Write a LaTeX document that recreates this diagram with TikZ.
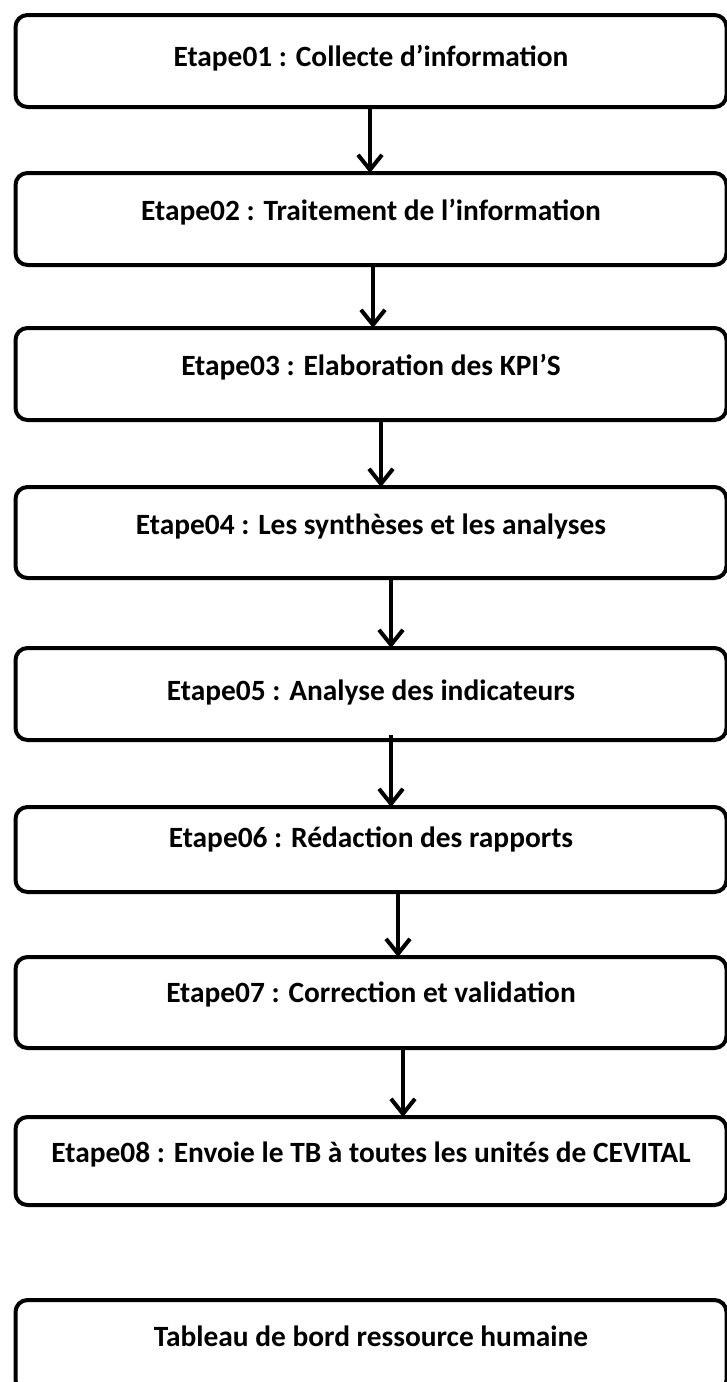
\documentclass[tikz,border=0pt]{standalone}
\usepackage{fontspec}
\setmainfont{Carlito}
\usepackage{xcolor}
\usepackage{tikz}
\usetikzlibrary{shapes,arrows.meta}
\usetikzlibrary{positioning}

\begin{document}
\begin{tikzpicture}[x=1pt, y=1pt,
  etape/.style = {shape=rectangle, rounded corners=12pt,
    draw, line width=4pt, align=center, outer sep=0pt,
    minimum width=711pt, inner ysep=0pt,
    text height=47pt, text depth=45pt,
    font=\bfseries\fontsize{29.4}{34}\selectfont},
  fleche/.style = {line width=4pt,
    -{Straight Barb[length=15pt, width=24pt]}}]
  \useasboundingbox (0,0) rectangle (726,-1382);
  \node[etape, anchor=north, text height=51pt, text depth=41pt] (e1) at (371,-15) {Etape01 : Collecte d’information};
  \node[etape, below=66pt of e1] (e2) {Etape02 : Traitement de l’information};
  \node[etape, below=63pt of e2] (e3) {Etape03 : Elaboration des KPI’S};
  \node[etape, below=67pt of e3, text depth=44pt] (e4) {Etape04 : Les synthèses et les analyses};
  \node[etape, below=70pt of e4, text height=52pt, text depth=40pt] (e5) {Etape05 : Analyse des indicateurs};
  \node[etape, below=67pt of e5, text height=40pt, text depth=45pt] (e6) {Etape06 : Rédaction des rapports};
  \node[etape, below=65pt of e6, text height=45pt, text depth=46pt] (e7) {Etape07 : Correction et validation};
  \node[etape, below=69pt of e7, text height=45pt, text depth=43pt] (e8) {Etape08 : Envoie le TB à toutes les unités de CEVITAL};
  \node[etape, below=95pt of e8, text height=46pt, text depth=46pt] (tb) {Tableau de bord ressource humaine};
  \draw[fleche] ([xshift=-1pt]e1.south) -- ([xshift=-1pt]e2.north);
  \draw[fleche] ([xshift=2pt]e2.south) -- ([xshift=2pt]e3.north);
  \draw[fleche] ([xshift=10pt]e3.south) -- ([xshift=10pt]e4.north);
  \draw[fleche] ([xshift=20pt]e4.south) -- ([xshift=20pt]e5.north);
  \draw[fleche] ([xshift=20pt, yshift=5pt]e5.south) -- ([xshift=20pt]e6.north);
  \draw[fleche] ([xshift=27pt]e6.south) -- ([xshift=27pt]e7.north);
  \draw[fleche] ([xshift=32pt]e7.south) -- ([xshift=32pt]e8.north);
\end{tikzpicture}
\end{document}
